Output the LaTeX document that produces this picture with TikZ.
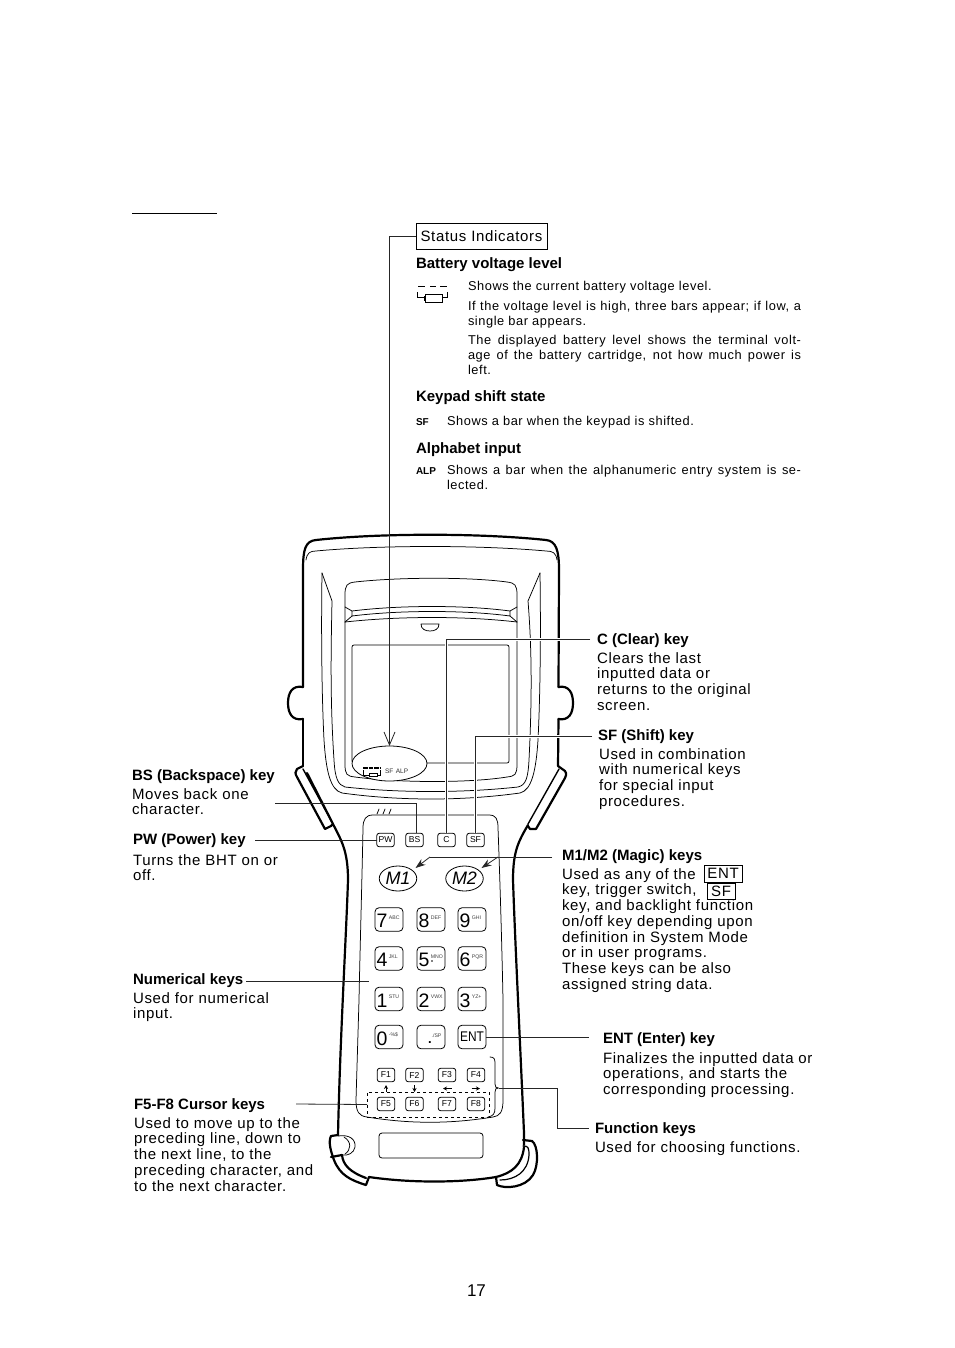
\documentclass[tikz,border=0pt]{standalone}
\usepackage{fontspec}
\setmainfont[LetterSpace=4.5,BoldFeatures={LetterSpace=0.1}]{Liberation Sans}
\newfontfamily\keyfont{Liberation Sans}
\usetikzlibrary{shapes.geometric,arrows.meta}
\newcommand{\bodyf}{\fontsize{15}{15.75}\selectfont}
\newcommand{\smallf}{\fontsize{12.8}{15.1}\selectfont}
\newcommand{\dkey}[2]{\raisebox{-1.5pt}[13.7pt][0pt]{\makebox[25pt][l]{\keyfont\fontsize{19.5}{19.5}\selectfont #1\raisebox{8.5pt}[0pt][0pt]{\fontsize{5.2}{5.2}\selectfont\color{black!75}\hspace{1.5pt}#2}}}}
\newcommand{\just}[2]{\makebox[#1pt][s]{#2}}
\newcommand{\topl}[1]{\begin{tabular}[t]{@{}l@{}}#1\end{tabular}}
\tikzset{
  x=1pt,y=-1pt,
  every node/.style={inner sep=0pt,outer sep=0pt},
  thickline/.style={line width=2.2pt,line join=round,line cap=round},
  thinline/.style={line width=0.75pt,line join=round,line cap=round},
  conn/.style={line width=0.8pt,black!85},
  halo/.style={preaction={draw=white,line width=3pt}},
  lead/.style={anchor=base west,font=\bodyf\bfseries},
  blocktext/.style={anchor=base west,font=\bodyf},
  smalltext/.style={anchor=base west,font=\smallf},
  smallbold/.style={anchor=base west,font=\fontsize{10}{10}\selectfont\bfseries},
  smallkey/.style={draw,line width=0.8pt,rounded corners=2.5pt,minimum width=17.5pt,minimum height=13.5pt,font=\keyfont\fontsize{8.6}{9}\selectfont},
  numkey/.style={draw,line width=0.8pt,rounded corners=4pt,minimum width=28pt,minimum height=23.5pt},
  magickey/.style={draw,ellipse,line width=0.8pt,minimum width=37.5pt,minimum height=25pt,font=\keyfont\itshape\fontsize{18}{18}\selectfont},
  framedword/.style={draw,line width=0.8pt,font=\bodyf,anchor=center},
  fnarrow/.style={line width=0.9pt,-{Stealth[length=4pt,width=4pt]}},
}
\begin{document}
\begin{tikzpicture}
\useasboundingbox (0,0) rectangle (954,1348);
\fill[white] (0,0) rectangle (954,1348);
% rule at top
\coordinate (ruleA) at (132,213.5);
\coordinate (ruleB) at (217,213.5);
\draw[line width=1pt] (ruleA) -- (ruleB);

% ---- device body ----
\draw[thickline] (303,687) -- (303,570) .. controls (303,550) and (305,541) .. (316,540)
  .. controls (380,533) and (480,533) .. (546,540) .. controls (556,541) and (559,550) .. (559,570) -- (558.5,687);
\draw[thickline] (558.5,719) -- (558,766);
\draw[thickline] (303,719) -- (303,766);
\draw[thickline] (303,687) .. controls (292,685) and (288,693) .. (288,703) .. controls (288,713) and (292,721) .. (303,719);
\draw[thickline] (558.5,687) .. controls (569,685) and (573,693) .. (573,703) .. controls (573,713) and (569,721) .. (558.5,719);
% left grip
\draw[thickline] (303,766) -- (297,769) .. controls (295,771) and (295,774) .. (297,777) -- (325,829) -- (331,826) -- (333,824);
\draw[thinline,line width=1.4pt] (303,769) -- (333,824);
\draw[thickline] (307,773) -- (333,824) .. controls (341,840) and (348,850) .. (348,880) .. controls (346,940) and (340,1040) .. (338,1135);
% right grip
\draw[thickline] (558,766) -- (565,771) .. controls (567,774) and (566,776) .. (565,778) -- (536,829) -- (530,829) -- (528,826);
\draw[thinline,line width=1.4pt] (559,769) -- (528,824);
\draw[thickline] (528,825) .. controls (518,842) and (513,852) .. (513,880) .. controls (515,940) and (520,1040) .. (524,1133) -- (524,1145);
% bottom
\draw[thickline] (338,1135) -- (331,1136) .. controls (328,1142) and (331,1152) .. (334,1160) .. controls (340,1175) and (350,1180) .. (366,1185) -- (369,1177);
\draw[thickline] (342,1155) .. controls (343,1165) and (350,1172) .. (366,1178);
\draw[thickline] (369,1177) .. controls (410,1183) and (460,1183) .. (496,1177);
\draw[thickline] (524,1147) .. controls (522,1165) and (512,1173) .. (496,1177) -- (497,1185) .. controls (505,1189) and (525,1188) .. (533,1175) .. controls (539,1165) and (538,1145) .. (532,1141) -- (523,1140);
\draw[thinline,line width=1.2pt] (500,1180) .. controls (515,1180) and (528,1172) .. (529,1155) .. controls (529,1147) and (528,1146) .. (523,1146);
\draw[thickline] (331,1157) -- (342,1155);
\draw[thinline] (338,1136) .. controls (350,1134) and (356,1140) .. (355,1147) .. controls (354,1153) and (348,1156) .. (342,1155);
\draw[thinline] (344,1137) .. controls (352,1142) and (351,1150) .. (345,1154);
% top inner line
\draw[thinline] (306,560) .. controls (307,553) and (310,551) .. (316,551) .. controls (380,545) and (480,545) .. (546,551) .. controls (553,551) and (556,553) .. (557,560);
% side panels
\draw[thinline] (322,573) .. controls (321,640) and (322,700) .. (324,740) .. controls (326,770) and (330,790) .. (342,793) .. controls (400,801) and (462,801) .. (520,793) .. controls (532,790) and (536,770) .. (538,740) .. controls (540,700) and (541,640) .. (540,573);
\draw[thinline] (322,573) -- (332,601) .. controls (331,650) and (330,700) .. (334,760) .. controls (335,778) and (338,785) .. (345,787) .. controls (400,793) and (462,793) .. (518,787) .. controls (526,785) and (528,778) .. (529,760) .. controls (532,700) and (532,650) .. (528,601) -- (540,573);
% bezel
\draw[thinline] (345,595) .. controls (345,585) and (347,583) .. (355,582) .. controls (400,577) and (470,577) .. (507,582) .. controls (515,583) and (517,585) .. (517,595) -- (517,764) .. controls (517,775) and (515,776) .. (507,777) .. controls (470,783) and (400,783) .. (355,777) .. controls (347,776) and (345,775) .. (345,764) -- cycle;
\draw[thinline] (345,607) -- (352,611) .. controls (400,605) and (465,605) .. (510,611) -- (517,607);
\draw[thinline] (352,611) -- (352,616) .. controls (400,610) and (465,610) .. (510,616) -- (510,611);
\draw[thinline] (345,622) -- (352,616);
\draw[thinline] (517,622) -- (510,616);
\draw[thinline] (345,622) .. controls (400,616) and (465,616) .. (517,622);
\draw[thinline] (421,624) -- (439,624) .. controls (439,629) and (435,631) .. (430,631) .. controls (425,631) and (421,629) .. (421,624);
% screen
\draw[thinline,rounded corners=2pt] (352,645) rectangle (509,763);
% indicator ellipse
\node[draw,ellipse,fill=white,line width=0.8pt,minimum width=75pt,minimum height=35pt] (indicator) at (389.5,763.5) {};
\draw[line width=1.3pt,dash pattern=on 4.5pt off 1pt] (363,768) -- (381,768);
\draw[line width=0.7pt] (363.5,770) -- (363.5,775) -- (369,775);
\draw[line width=0.7pt] (377,775) -- (380.5,775) -- (380.5,770);
\draw[line width=0.7pt] (369,773) rectangle (377,776.5);
\node[anchor=base west,font=\keyfont\fontsize{6.5}{7}\selectfont,text=black!80] (indtext) at (385,773) {SF\hspace{2.6pt}ALP};
% slashes
\draw[thinline] (377,814) -- (379,809) (383,814) -- (385,809) (389,814) -- (391,809);
% keypad panel
\draw[thinline] (359,1000) .. controls (360,950) and (362,880) .. (363,828) .. controls (363,819) and (366,815) .. (373,815) -- (489,815) .. controls (496,815) and (498,819) .. (498,828) .. controls (500,880) and (502,950) .. (503,1000) -- (503,1100) .. controls (503,1112) and (500,1116) .. (493,1117) .. controls (450,1124) and (410,1124) .. (367,1117) .. controls (359,1116) and (356,1112) .. (356,1100) -- cycle;
% display rectangle
\node[draw,line width=0.8pt,rounded corners=3pt,minimum width=104pt,minimum height=25pt] (lcdslot) at (431,1145.5) {};

% ---- keys ----
\node[smallkey,fill=white] (keyPW) at (385.5,840) {PW};
\node[smallkey,fill=white] (keyBS) at (414.5,840) {BS};
\node[smallkey,fill=white] (keyC)  at (446.5,840) {C};
\node[smallkey,fill=white] (keySF) at (475.5,840) {SF};
\node[magickey] (M1) at (398,878.5) {M1};
\node[magickey] (M2) at (464.5,878.5) {M2};
\node[numkey] (k7) at (389,919.5) {\dkey{7}{ABC}};
\node[numkey] (k8) at (431,919.5) {\dkey{8}{DEF}};
\node[numkey] (k9) at (472,919.5) {\dkey{9}{GHI}};
\node[numkey] (k4) at (389,958.5) {\dkey{4}{JKL}};
\node[numkey] (k5) at (431,958.5) {\dkey{5}{MNO}};
\node[numkey] (k6) at (472,958.5) {\dkey{6}{PQR}};
\node[numkey] (k1) at (389,999) {\dkey{1}{STU}};
\node[numkey] (k2) at (431,999) {\dkey{2}{VWX}};
\node[numkey] (k3) at (472,999) {\dkey{3}{YZ+}};
\node[numkey] (k0) at (389,1037) {\dkey{0}{-\%\$}};
\node[numkey] (kdot) at (431,1037) {\raisebox{-2pt}[8pt][0pt]{\makebox[24pt][l]{\hspace{9pt}\keyfont\fontsize{13}{13}\selectfont\textbf{.}\raisebox{5.5pt}[0pt][0pt]{\fontsize{5.2}{5.2}\selectfont\color{black!75}./SP}}}};
\node[numkey] (kENT) at (472,1037) {\keyfont\fontsize{14}{14}\selectfont\addfontfeature{FakeStretch=0.85}ENT};
\fill (432,961) circle (0.8pt);
\node[smallkey] (kF1) at (386,1075) {F1};
\node[smallkey] (kF2) at (414.5,1075) {F2};
\node[smallkey] (kF3) at (447,1075) {F3};
\node[smallkey] (kF4) at (476,1075) {F4};
\node[smallkey] (kF5) at (386,1104) {F5};
\node[smallkey] (kF6) at (414.5,1104) {F6};
\node[smallkey] (kF7) at (447,1104) {F7};
\node[smallkey] (kF8) at (476,1104) {F8};
% dashed group and brace
\node[draw,dashed,line width=0.8pt,minimum width=122pt,minimum height=25pt] (cursorgroup) at (428,1104.5) {};
\coordinate (bracetip) at (498.5,1088);
\draw[thinline] (490,1057) .. controls (494,1057) and (495,1059) .. (495,1063) -- (495,1084) .. controls (495,1087) and (496,1088) .. (bracetip) .. controls (496,1088) and (495,1089) .. (495,1092) -- (495,1108) .. controls (495,1114) and (493,1116) .. (488,1117);
% arrows between function keys
\draw[fnarrow] (386,1092) -- (386,1085);
\draw[fnarrow] (414.5,1085) -- (414.5,1092);
\draw[fnarrow] (451.5,1088.5) -- (443,1088.5);
\draw[fnarrow] (471.5,1088.5) -- (480,1088.5);

% ---- connectors ----
\coordinate (endC) at (590,639);
\coordinate (endSF) at (592,736);
\coordinate (endBS) at (275,803);
\coordinate (endPW) at (255,840);
\coordinate (endM) at (552,857);
\coordinate (bendM) at (430,857);
\coordinate (bendM2) at (498,857);
\coordinate (tipM1) at (415.5,868);
\coordinate (tipM2) at (481.5,868);
\coordinate (endNum) at (246,981.5);
\coordinate (numIn) at (369,981.5);
\coordinate (endENT) at (589,1037);
\coordinate (endF58) at (296,1104);
\coordinate (endFunc) at (589,1128);
\coordinate (bendFunc) at (557,1088);
\node[draw,line width=0.8pt,minimum width=131pt,minimum height=26pt,font=\bodyf] (statusbox) at (481.5,236.5) {Status Indicators};
\draw[conn,-{Straight Barb[length=13pt,width=11pt]}] (statusbox.west) -| (indicator.north);
\draw[conn,halo] (endC) -| (keyC.north);
\draw[conn,halo] (endSF) -| (keySF.north);
\draw[conn] (endBS) -| ([xshift=2pt]keyBS.north);
\draw[conn] (endPW) -- (keyPW.west);
\draw[conn] (endM) -- (bendM);
\draw[conn,-{Stealth[length=10pt,width=7pt]}] (bendM) -- (tipM1);
\draw[conn,-{Stealth[length=10pt,width=7pt]}] (bendM2) -- (tipM2);
\draw[conn] (endNum) -- (numIn);
\draw[conn] (kENT.east) -- (endENT);
\draw[conn] (endF58) -- (cursorgroup.west);
\draw[conn] (bracetip) -- (bendFunc) |- (endFunc);

% ---- text top ----
\node[lead] (tBattery) at (416,269) {Battery voltage level};
\draw[line width=0.8pt] (418,286) -- (425,286) (430,286) -- (436,286) (440,286) -- (446.5,286);
\draw[line width=0.8pt] (417,292) -- (417,297) -- (424,297);
\draw[line width=0.8pt] (442,297) -- (447,297) -- (447,292);
\node[draw,line width=0.8pt,minimum width=17pt,minimum height=8pt] (battIcon) at (433.5,298) {};
\draw[line width=0.8pt] (424,296) rectangle (425.5,300);
\node[smalltext] (tShows) at (468,290) {Shows the current battery voltage level.};
\node[smalltext] (tIf) at (468,310) {\topl{\just{333}{If the voltage level is high, three bars appear; if low, a}\\single bar appears.}};
\node[smalltext] (tDisp) at (468,344) {\topl{\just{333}{The displayed battery level shows the terminal volt-}\\\just{333}{age of the battery cartridge, not how much power is}\\left.}};
\node[lead] (tKeypad) at (416,401) {Keypad shift state};
\node[smallbold] (tSF) at (416,425) {SF};
\node[smalltext] (tSFd) at (447,425) {Shows a bar when the keypad is shifted.};
\node[lead] (tAlpha) at (416,453) {Alphabet input};
\node[smallbold] (tALP) at (416,474) {ALP};
\node[smalltext] (tALPd) at (447,474) {\topl{\just{354}{Shows a bar when the alphanumeric entry system is se-}\\lected.}};

% ---- labels ----
\node[lead] (lC) at (597,644) {C (Clear) key};
\node[blocktext] (dC) at (597,663) {\topl{Clears the last\\inputted data or\\returns to the original\\screen.}};
\node[lead] (lSF) at (598,740) {SF (Shift) key};
\node[blocktext] (dSF) at (599,759) {\topl{Used in combination\\with numerical keys\\for special input\\procedures.}};
\node[lead] (lBS) at (132,780) {BS (Backspace) key};
\node[blocktext] (dBS) at (132,799) {\topl{Moves back one\\character.}};
\node[lead] (lPW) at (133,844) {PW (Power) key};
\node[blocktext] (dPW) at (133,865) {\topl{Turns the BHT on or\\off.}};
\node[lead] (lM) at (562,860) {M1/M2 (Magic) keys};
\node[blocktext] (dM) at (562,879) {\topl{Used as any of the\\key, trigger switch,\\key, and backlight function\\on/off key depending upon\\definition in System Mode\\or in user programs.\\These keys can be also\\assigned string data.}};
\node[framedword,minimum width=38pt,minimum height=17pt] (fENT) at (723,873.5) {ENT};
\node[framedword,minimum width=28pt,minimum height=16pt] (fSF) at (721,891) {SF};
\node[lead] (lNum) at (133,984) {Numerical keys};
\node[blocktext] (dNum) at (133,1003) {\topl{Used for numerical\\input.}};
\node[lead] (lENT) at (603,1043) {ENT (Enter) key};
\node[blocktext] (dENT) at (603,1063) {\topl{Finalizes the inputted data or\\operations, and starts the\\corresponding processing.}};
\node[lead] (lFunc) at (595,1133) {Function keys};
\node[blocktext] (dFunc) at (595,1152) {Used for choosing functions.};
\node[lead] (lCur) at (134,1109) {F5-F8 Cursor keys};
\node[blocktext] (dCur) at (134,1128) {\topl{Used to move up to the\\preceding line, down to\\the next line, to the\\preceding character, and\\to the next character.}};
\node[anchor=base west,font=\keyfont\fontsize{17}{17}\selectfont] (pageno) at (467,1296) {17};
\end{tikzpicture}
\end{document}
